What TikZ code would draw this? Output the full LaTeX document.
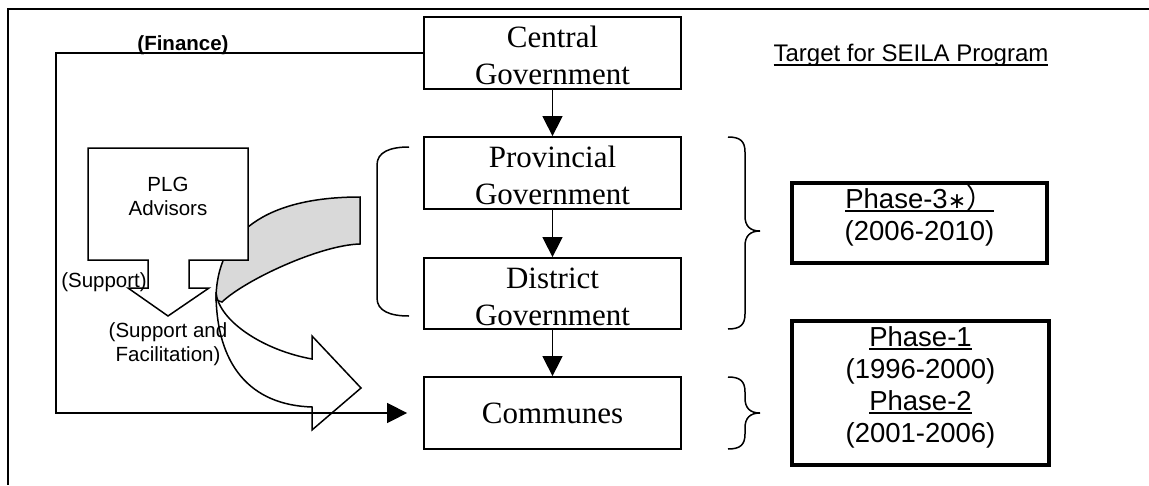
\documentclass[tikz,border=0pt]{standalone}
\usepackage{fontspec}
\setmainfont{Liberation Serif}
\newfontfamily\arialf{Liberation Sans}
\newfontfamily\symf{DejaVu Sans}
\newfontfamily\cjkf{Noto Sans CJK JP}
\usetikzlibrary{arrows.meta}

% underline with a chosen offset and thickness
\newcommand{\ulined}[3]{\setbox0=\hbox{#3}\rlap{\rule[-#1]{\wd0}{#2}}\box0}
% extra room above the first line of a two-line box
\newcommand{\toppad}{\rule{0pt}{27pt}}

\begin{document}
\begin{tikzpicture}[x=1pt,y=-1pt,
  govbox/.style={draw, line width=1.8pt, minimum width=257pt, minimum height=72pt,
    inner sep=0pt, align=center, font=\fontsize{31}{37}\selectfont},
  phasebox/.style={draw, line width=3.5pt, inner sep=0pt},
  phasetext/.style={align=center, inner sep=0pt, font=\arialf\fontsize{27.5}{32}\selectfont},
  lbl/.style={align=center, inner sep=0pt, font=\arialf\fontsize{20.5}{24}\selectfont},
  finlbl/.style={inner sep=0pt, font=\arialf\bfseries\fontsize{20.5}{24}\selectfont},
  flow/.style={line width=1.5pt, -{Triangle[length=20pt,width=20pt]}},
  thinline/.style={line width=1.5pt},
]
\fill[white] (0,0) rectangle (1149,485);
\useasboundingbox (0,0) rectangle (1149,485);

% outer frame (top and left edges)
\draw[line width=2.6pt] (8,9) -- (1149,9);
\draw[line width=1.8pt] (8,8) -- (8,485);

% curved support arrow: shaded back band, then white front band with head
\draw[thinline, fill=black!15] (360,197) .. controls (266,197) and (216,233) .. (216,300)
  -- (222,302) .. controls (245,280) and (320,245) .. (360,244) -- cycle;
\draw[thinline, fill=white] (216,292) .. controls (218,320) and (262,350) .. (312,359)
  -- (312,336) -- (361,388) -- (312,430) -- (312,407)
  .. controls (250,405) and (216,365) .. (216,292) -- cycle;

% PLG advisors callout with downward arrow
\draw[thinline, fill=white] (88,148) -- (248,148) -- (248,260) -- (189,260) -- (189,288)
  -- (209,288) -- (168,316) -- (128,288) -- (148,288) -- (148,260) -- (88,260) -- cycle;
\node[lbl] (plg) at (168,196.5) {PLG\\Advisors};
\node[lbl] (sup) at (104,282) {(Support)};
\node[lbl] (supfac) at (168,344) {(Support and\\Facilitation)};

% government levels
\node[govbox] (central) at (552.5,53) {\toppad Central\\Government};
\node[govbox] (prov) at (552.5,173) {\toppad Provincial\\Government};
\node[govbox, minimum height=71pt] (dist) at (552.5,293.5) {\toppad District\\Government};
\node[govbox] (comm) at (552.5,413) {Communes};

\draw[flow] (central) -- (prov);
\draw[flow] (prov) -- (dist);
\draw[flow] (dist) -- (comm);

% finance channel
\node[finlbl] (fin) at (183,45) {(Finance)};
\draw[flow, shorten >=16pt] (central.west) -- ++(-367,0) |- (comm.west);

% rounded bracket round provincial and district levels
\draw[thinline] (409,147) .. controls (390,147) and (377,152) .. (377,165) -- (377,298)
  .. controls (377,311) and (390,316) .. (409,316);

% braces
\draw[thinline] (728,137) .. controls (740,137) and (745,141) .. (745,152) -- (745,216)
  .. controls (745,226) and (750,231) .. (760,231)
  .. controls (750,231) and (745,236) .. (745,246) -- (745,314)
  .. controls (745,325) and (740,329) .. (728,329);
\draw[thinline] (728,377) .. controls (740,377) and (745,381) .. (745,392) -- (745,398)
  .. controls (745,408) and (750,413) .. (760,413)
  .. controls (750,413) and (745,418) .. (745,428) -- (745,434)
  .. controls (745,445) and (740,449) .. (728,449);

% SEILA programme phases
\node[inner sep=0pt, font=\arialf\fontsize{24}{28}\selectfont] (target) at (911,55)
  {\ulined{4.5pt}{1.5pt}{Target for SEILA Program}};
\node[phasebox, minimum width=255pt, minimum height=80pt] (p3) at (919.5,223) {};
\node[phasetext] (p3t) at ([yshift=7pt]p3.center)
  {\ulined{3.5pt}{2pt}{Phase-3{\symf\fontsize{22}{22}\selectfont ∗}{\cjkf ）}}\\(2006-2010)};
\node[phasebox, minimum width=257pt, minimum height=144pt] (p12) at (920.5,393) {};
\node[phasetext] (p12t) at ([yshift=6pt]p12.center)
  {\ulined{3.5pt}{2pt}{Phase-1}\\(1996-2000)\\\ulined{3.5pt}{2pt}{Phase-2}\\(2001-2006)};
\end{tikzpicture}
\end{document}
